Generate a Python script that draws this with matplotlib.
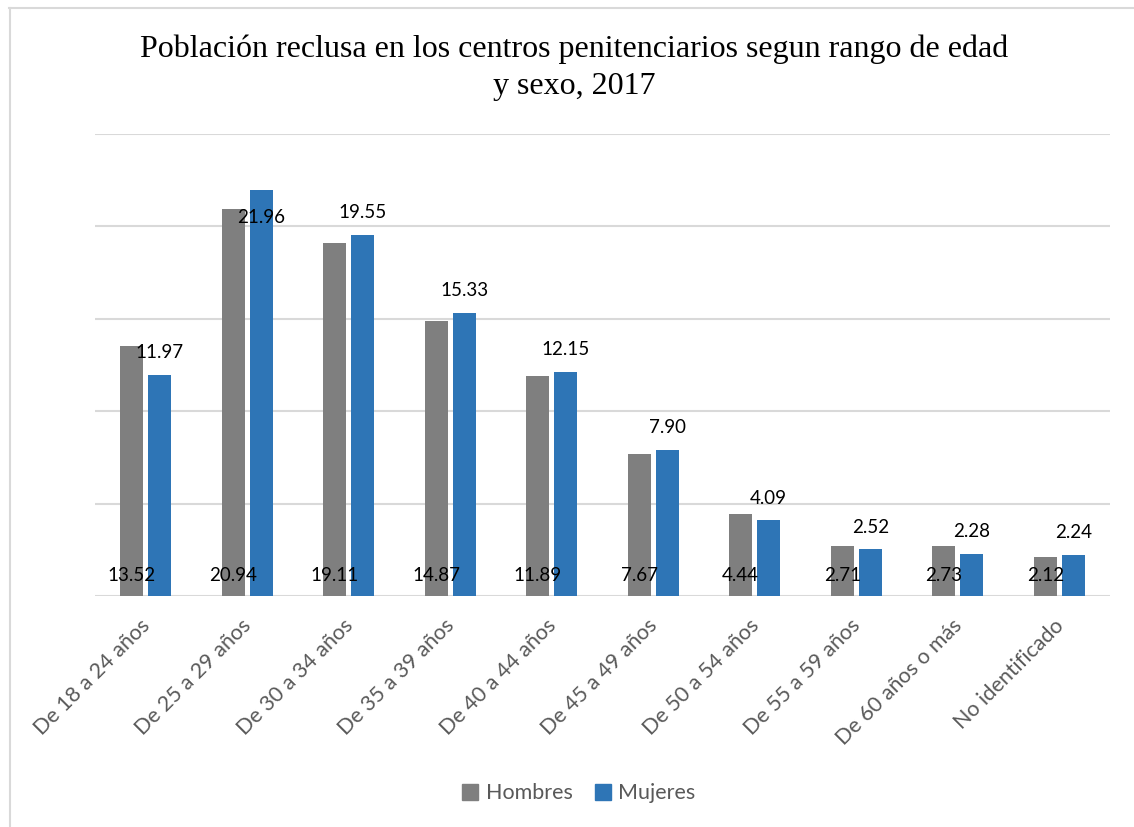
import numpy as np
import matplotlib
matplotlib.use("Agg")
import matplotlib.pyplot as plt
from matplotlib.lines import Line2D
from matplotlib.transforms import ScaledTranslation

categories = ["De 18 a 24 años", "De 25 a 29 años", "De 30 a 34 años",
              "De 35 a 39 años", "De 40 a 44 años", "De 45 a 49 años",
              "De 50 a 54 años", "De 55 a 59 años", "De 60 años o más",
              "No identificado"]
hombres = [13.52, 20.94, 19.11, 14.87, 11.89, 7.67, 4.44, 2.71, 2.73, 2.12]
mujeres = [11.97, 21.96, 19.55, 15.33, 12.15, 7.90, 4.09, 2.52, 2.28, 2.24]

GRAY = "#7F7F7F"
BLUE = "#2E75B6"
TXT = "#595959"
SANS = ["Lato", "DejaVu Sans"]

fig = plt.figure(figsize=(11.34, 8.27), dpi=100)
ax = fig.add_axes([0.0838, 0.2793, 0.895, 0.5586])

x = np.arange(len(categories))
w = 0.225
off = 0.138
ax.bar(x - off, hombres, w, color=GRAY, zorder=3)
ax.bar(x + off, mujeres, w, color=BLUE, zorder=3)

# Hombres labels sit at the base, Mujeres labels above the bar
for i, v in enumerate(hombres):
    ax.text(x[i] - off, 1.13, f"{v:.2f}", ha="center", va="center",
            fontsize=13.5, family=SANS, color="black", zorder=4)
for i, v in enumerate(mujeres):
    y = v - 1.5 if v > 21 else v + 1.2
    ax.text(x[i] + off, y, f"{v:.2f}", ha="center", va="center",
            fontsize=13.5, family=SANS, color="black", zorder=4)

ax.set_xlim(-0.5, len(categories) - 0.5)
ax.set_ylim(0, 25)
ax.set_yticks(np.arange(0, 26, 5))
ax.yaxis.grid(True, color="#D9D9D9", linewidth=1.5, zorder=0)
ax.tick_params(axis="y", left=False, labelleft=False)
ax.tick_params(axis="x", length=0, pad=14)
for s in ax.spines.values():
    s.set_visible(False)

ax.set_xticks(x)
ax.set_xticklabels(categories, rotation=45, ha="right", va="top",
                   rotation_mode="anchor", fontsize=15.5, family=SANS, color=TXT)
shift = ScaledTranslation(-6 / 100, 0, fig.dpi_scale_trans)
for lab in ax.get_xticklabels():
    lab.set_transform(lab.get_transform() + shift)

fig.text(0.506, 0.918, "Población reclusa en los centros penitenciarios segun rango de edad\ny sexo, 2017",
         ha="center", va="center", fontsize=23, family="Liberation Serif",
         color="black", linespacing=1.38)

handles = [Line2D([], [], marker="s", linestyle="", markersize=11, color=GRAY),
           Line2D([], [], marker="s", linestyle="", markersize=11, color=BLUE)]
fig.legend(handles, ["Hombres", "Mujeres"], loc="center", bbox_to_anchor=(0.51, 0.041),
           ncol=2, frameon=False, handlelength=0.8, handletextpad=0.3,
           columnspacing=1.0, prop={"family": SANS, "size": 15.5}, labelcolor=TXT)

# outer chart border (only top and left edges fall inside the picture)
fig.add_artist(Line2D([0.008, 1.0], [0.99, 0.99], transform=fig.transFigure,
                      color="#D9D9D9", linewidth=1.5))
fig.add_artist(Line2D([0.0085, 0.0085], [0.0, 0.99], transform=fig.transFigure,
                      color="#D9D9D9", linewidth=1.5))

fig.savefig("out.png", dpi=100)
